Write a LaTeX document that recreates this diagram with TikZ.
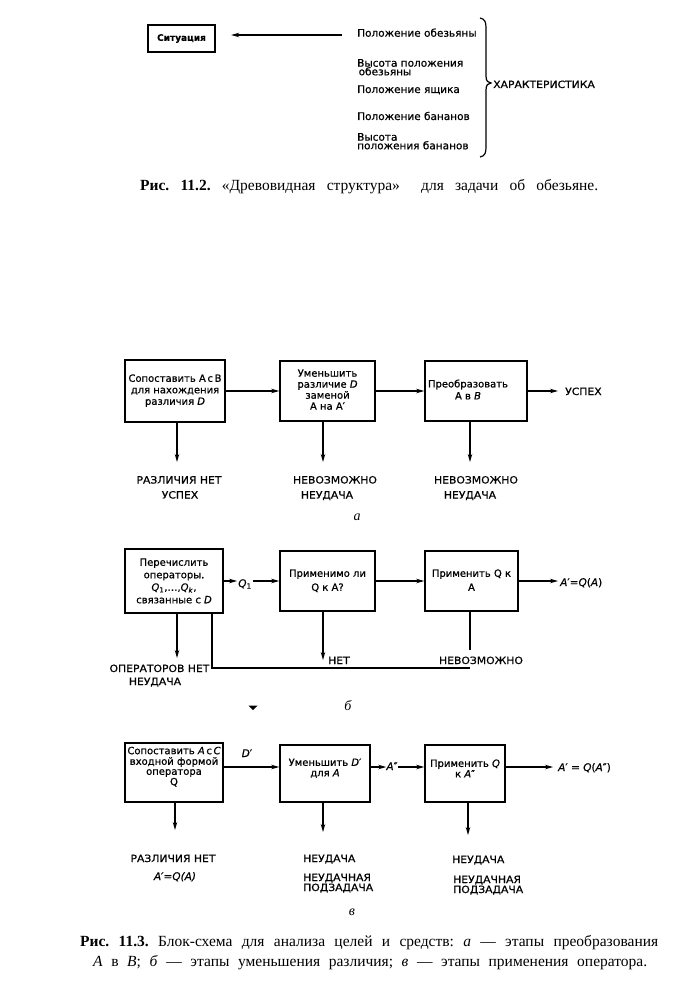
\documentclass[tikz,border=0pt]{standalone}
\usepackage{fontspec}
\setmainfont{Liberation Serif}
\newfontfamily\diagfont[FakeBold=0.7]{DejaVu Sans}
\newfontfamily\capsfont[FakeStretch=1.08,FakeBold=0.7]{DejaVu Sans}
\usetikzlibrary{arrows.meta}
\newcommand\boxtext[3]{\raisebox{#1}[\height][\depth]{\fontsize{10}{#2}\selectfont\begin{tabular}{@{}c@{}}#3\end{tabular}}}
\tikzset{
  box/.style={draw, line width=1.6pt, inner sep=0pt, font=\diagfont},
  lab/.style={inner sep=0pt, anchor=base, font={\capsfont\fontsize{10}{12}\selectfont}},
  txt/.style={inner sep=0pt, anchor=base west, font={\diagfont\fontsize{10.5}{12}\selectfont}},
  mth/.style={inner sep=0pt, anchor=base, font={\diagfont\fontsize{10.5}{12}\selectfont}},
  arr/.style={line width=1.1pt, -{Stealth[length=8pt,width=4.5pt]}},
  ln/.style={line width=1.1pt},
  captext/.style={inner sep=0pt, anchor=base west, font={\fontsize{15.5}{17}\selectfont\frenchspacing}},
  sublab/.style={inner sep=0pt, anchor=base, font={\fontsize{14}{15}\selectfont\itshape}}
}
\begin{document}
\begin{tikzpicture}[x=1pt,y=-1pt]
\useasboundingbox (0,0) rectangle (675,1000);

% ---------- Fig 11.2 ----------
\node[box, line width=2.4pt, minimum width=67pt, minimum height=27pt] (sit) at (181.5,38.5) {\bfseries\fontsize{9}{10}\selectfont Ситуация};
\node[txt] (p1) at (357,36.7) {Положение обезьяны};
\node[txt] (p2) at (357,66.7) {Высота положения};
\node[txt] (p2b) at (358.5,75.3) {обезьяны};
\node[txt] (p3) at (357,93) {Положение ящика};
\node[txt] (p4) at (357,120) {Положение бананов};
\node[txt] (p5) at (357,140.7) {Высота};
\node[txt] (p5b) at (357,149.3) {положения бананов};
\node[lab, anchor=base west] (ch) at (493,88) {ХАРАКТЕРИСТИКА};
\draw[arr, shorten <=15pt, shorten >=15pt] ([yshift=1.7pt]p1.base west) -- ([yshift=1.7pt]p1.base west -| sit.east);
\draw[line width=1.2pt] (480,18) .. controls (485,19) and (486,22) .. (486,28) -- (486,76)
  .. controls (486,81) and (488,83) .. (491,83) .. controls (488,83) and (486,85) .. (486,90)
  -- (486,147) .. controls (486,153) and (485,156) .. (480,157);
\node[captext] (cap1) at (140,191) {\makebox[458pt][s]{{\bfseries Рис. 11.2.} «Древовидная структура»\hspace{10pt} для задачи об обезьяне.}};

% ---------- Fig 11.3 a ----------
\node[box, minimum width=100pt, minimum height=62pt] (a1) at (175,391) {\boxtext{0pt}{11.5}{Сопоставить А\,с\,В\\для нахождения\\различия \textit{D}}};
\node[box, minimum width=95pt, minimum height=60pt] (a2) at (327.5,391) {\boxtext{0pt}{11}{Уменьшить\\различие \textit{D}\\заменой\\А на А′}};
\node[box, minimum width=102pt, minimum height=60pt] (a3) at (476,391) {\boxtext{0pt}{12}{Преобразовать\\А в \textit{B}}\kern16pt};
\draw[arr] (a1.east) -- (a2.west);
\draw[arr] (a2.east) -- (a3.west);
\node[lab, anchor=base west] (ua) at (565,395) {УСПЕХ};
\draw[arr, shorten >=7pt] (a3.east) -- (a3.east -| ua.west);
\coordinate (ea1) at (177,462);
\coordinate (ea2) at (323,462);
\coordinate (ea3) at (470,462);
\draw[arr] (a1.south -| ea1) -- (ea1);
\draw[arr] (a2.south -| ea2) -- (ea2);
\draw[arr] (a3.south -| ea3) -- (ea3);
\node[lab] (la1) at (179,483.5) {РАЗЛИЧИЯ НЕТ};
\node[lab] (la1b) at (180,498.5) {УСПЕХ};
\node[lab] (la2) at (335,483.5) {НЕВОЗМОЖНО};
\node[lab] (la2b) at (327,498.5) {НЕУДАЧА};
\node[lab] (la3) at (476,483.5) {НЕВОЗМОЖНО};
\node[lab] (la3b) at (470,498.5) {НЕУДАЧА};
\node[sublab] (sa) at (357,520.5) {а};

% ---------- Fig 11.3 b ----------
\node[box, minimum width=98pt, minimum height=64pt] (b1) at (174,581) {\boxtext{-1pt}{12.5}{Перечислить\\операторы.\\\textit{Q}\textsubscript{1},…,\textit{Q}\textsubscript{\textit{k}},\\связанные с \textit{D}}};
\node[box, minimum width=95pt, minimum height=60pt] (b2) at (327.5,581) {\boxtext{0pt}{14}{Применимо ли\\Q к A?}};
\node[box, minimum width=93pt, minimum height=60pt] (b3) at (471.5,581) {\boxtext{0pt}{14}{Применить Q к\\A}};
\node[inner sep=1pt, font={\diagfont\fontsize{10.5}{12}\selectfont}] (q1) at (245,584) {\textit{Q}\textsubscript{1}};
\draw[arr] (b1.east) -- (b1.east -| q1.west);
\draw[arr] (b1.east -| q1.east) -- (b2.west);
\draw[arr] (b2.east) -- (b3.west);
\node[mth, anchor=base west] (bq) at (560,586) {\textit{A}′=\textit{Q}(\textit{A})};
\draw[arr, shorten >=2pt] (b3.east) -- (b3.east -| bq.west);
\coordinate (eb1) at (177,658);
\coordinate (eb2) at (323,660);
\coordinate (lb1) at (212,668);
\coordinate (lb2) at (470,668);
\coordinate (lb3) at (470,650);
\draw[arr] (b1.south -| eb1) -- (eb1);
\draw[arr] (b2.south -| eb2) -- (eb2);
\draw[ln] (b1.south -| lb1) -- (lb1) -- (lb2);
\draw[ln] (b3.south -| lb3) -- (lb3);
\node[lab] (lb1t) at (159.5,672) {ОПЕРАТОРОВ НЕТ};
\node[lab] (lb1u) at (155,685) {НЕУДАЧА};
\node[lab, anchor=base west] (lb2t) at (328,664) {НЕТ};
\node[lab] (lb3t) at (481,664) {НЕВОЗМОЖНО};
\node[sublab] (sb) at (348,710) {б};
\fill (248.5,705.5) -- (257.5,705.5) -- (253,710) -- cycle;

% ---------- Fig 11.3 c ----------
\node[box, minimum width=98pt, minimum height=59pt] (c1) at (174,772.5) {\boxtext{5pt}{10}{Сопоставить \textit{A}\,с\,\textit{C}\\входной формой\\оператора\\Q}};
\node[box, minimum width=90pt, minimum height=57pt] (c2) at (325,773.5) {\boxtext{4.5pt}{10.5}{Уменьшить \textit{D}′\\для \textit{A}}};
\node[box, minimum width=80pt, minimum height=57pt] (c3) at (465,773.5) {\boxtext{3.5pt}{10.5}{Применить \textit{Q}\\к \textit{A}″}};
\coordinate (cy) at (0,767);
\draw[arr] (c1.east |- cy) -- (c2.west |- cy);
\node[mth] (dp) at (247,757) {\textit{D}′};
\node[mth] (app) at (392,770) {\textit{A}″};
\draw[arr] (c2.east |- cy) -- (cy -| app.west);
\draw[arr] (cy -| app.east) -- (c3.west |- cy);
\node[mth, anchor=base west] (cq) at (558,771) {\textit{A}′ = \textit{Q}(\textit{A}″)};
\draw[arr, shorten >=5pt] (c3.east |- cy) -- (cy -| cq.west);
\coordinate (ec1) at (175,830);
\coordinate (ec2) at (323,832);
\coordinate (ec3) at (468,835);
\draw[arr] (c1.south -| ec1) -- (ec1);
\draw[arr] (c2.south -| ec2) -- (ec2);
\draw[arr] (c3.south -| ec3) -- (ec3);
\node[lab] (lc1) at (173,862) {РАЗЛИЧИЯ НЕТ};
\node[mth] (lc1b) at (175,880) {\itshape A′=Q(A)};
\node[lab, anchor=base west] (lc2) at (303,862) {НЕУДАЧА};
\node[lab, anchor=base west] (lc2b) at (303,881) {НЕУДАЧНАЯ};
\node[lab, anchor=base west] (lc2c) at (303,891) {ПОДЗАДАЧА};
\node[lab, anchor=base west] (lc3) at (452,863) {НЕУДАЧА};
\node[lab, anchor=base west] (lc3b) at (453,883) {НЕУДАЧНАЯ};
\node[lab, anchor=base west] (lc3c) at (453,893) {ПОДЗАДАЧА};
\node[sublab] (sc) at (352,915) {в};

% ---------- caption ----------
\node[captext] (cap2) at (80,946) {\makebox[578pt][s]{{\bfseries Рис. 11.3.} Блок-схема для анализа целей и средств: \textit{а} — этапы преобразования}};
\node[captext] (cap2b) at (93,966) {\makebox[554pt][s]{\textit{A} в \textit{B}; \textit{б} — этапы уменьшения различия; \textit{в} — этапы применения оператора.}};
\end{tikzpicture}
\end{document}
